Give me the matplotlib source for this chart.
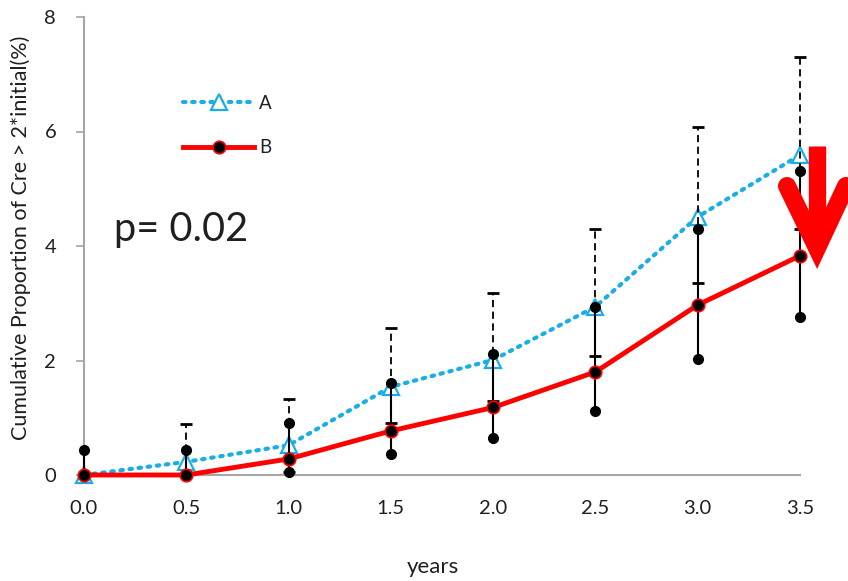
import numpy as np
import matplotlib
matplotlib.use("Agg")
import matplotlib.pyplot as plt
from matplotlib.lines import Line2D

plt.rcParams['font.family'] = ['Lato', 'DejaVu Sans']

# data
years = [0.0, 0.5, 1.0, 1.5, 2.0, 2.5, 3.0, 3.5]
a_val = [0.0, 0.23, 0.52, 1.54, 2.01, 2.94, 4.51, 5.59]
a_hi = [0.0, 0.89, 1.32, 2.56, 3.18, 4.29, 6.07, 7.31]
a_lo = [0.0, 0.0, 0.06, 0.91, 1.30, 2.07, 3.35, 4.30]
b_val = [0.0, 0.0, 0.28, 0.77, 1.18, 1.80, 2.97, 3.83]
b_hi = [0.43, 0.44, 0.91, 1.61, 2.12, 2.93, 4.30, 5.31]
b_lo = [0.0, 0.0, 0.06, 0.36, 0.64, 1.11, 2.03, 2.76]
x_ticks = [0.0, 0.5, 1.0, 1.5, 2.0, 2.5, 3.0, 3.5]
y_ticks = [0, 2, 4, 6, 8]

blue = '#1aaee8'
red = '#ff0000'
gray = '#a6a6a6'
txt = '#1f1f1f'

x = np.array(years)
a = np.array(a_val)
b = np.array(b_val)

fig = plt.figure(figsize=(8.48, 5.81), dpi=100)
ax = fig.add_axes([84/848, 1-475/581, (800-84)/848, (475-17)/581])

# series A
ax.plot(x, a, color=blue, lw=3, linestyle=(0, (0.6, 1.6)), dash_capstyle='round',
        marker='^', ms=11, mfc='white', mec=blue, mew=1.6, zorder=2, clip_on=False)
ebA = ax.errorbar(x, a, yerr=[a - np.array(a_lo), np.array(a_hi) - a], fmt='none',
                  ecolor='black', elinewidth=1.3, capsize=4, capthick=2, zorder=3, clip_on=False)
for lc in ebA[2]:
    lc.set_linestyle((0, (4, 2.5)))

# series B
ax.plot(x, b, color=red, lw=3.5, solid_capstyle='round', zorder=4, clip_on=False)
ax.errorbar(x, b, yerr=[b - np.array(b_lo), np.array(b_hi) - b], fmt='none',
            ecolor='black', elinewidth=1.5, capsize=0, zorder=5, clip_on=False)
ax.plot(x, b_hi, 'o', color='black', ms=7, zorder=5, clip_on=False)
ax.plot(x, b_lo, 'o', color='black', ms=7, zorder=5, clip_on=False)
ax.plot(x, b, 'o', color='black', ms=9, mec=red, mew=1.2, zorder=6, clip_on=False)

ax.set_xlim(0, 3.5)
ax.set_ylim(0, 8)
ax.set_xticks(x_ticks)
ax.set_xticklabels(['%.1f' % v for v in x_ticks])
ax.set_yticks(y_ticks)
for s in ['top', 'right']:
    ax.spines[s].set_visible(False)
for s in ['left', 'bottom']:
    ax.spines[s].set_color(gray)
    ax.spines[s].set_linewidth(1.5)
ax.tick_params(axis='x', length=0, pad=18, labelsize=14.5, labelcolor=txt)
ax.tick_params(axis='y', length=6, width=1.2, color=gray, pad=14, labelsize=14.5, labelcolor=txt)

ax.set_xlabel('years', fontsize=16, color=txt)
ax.xaxis.set_label_coords(0.487, -0.18)
ax.set_ylabel('Cumulative Proportion of Cre > 2*initial(%)', fontsize=15.5, color=txt)
ax.yaxis.set_label_coords(-0.074, 0.518)

# legend
hA = Line2D([], [], color=blue, lw=3, linestyle=(0, (0.6, 1.6)), dash_capstyle='round',
            marker='^', ms=11, mfc='white', mec=blue, mew=1.6)
hB = Line2D([], [], color=red, lw=3.5, marker='o', ms=9, mfc='black', mec=red, mew=1.2)
fig.legend([hA, hB], ['A', 'B'], loc='upper left', bbox_to_anchor=(166/848, 1-78/581),
           frameon=False, fontsize=13.5, handlelength=3.8, handletextpad=0.25,
           labelspacing=1.45, numpoints=1, labelcolor=txt)

fig.text(114/848, 1-229/581, 'p= 0.02', fontsize=28.5, color=txt, va='center', ha='left')

# red arrow annotation
def px(xx, yy):
    return [v/848 for v in xx], [1 - v/581 for v in yy]

sx, sy = px([817, 817], [146, 238])
fig.add_artist(Line2D(sx, sy, color=red, lw=12.5, solid_capstyle='butt'))
hx, hy = px([787, 817, 846], [186, 248, 186])
fig.add_artist(Line2D(hx, hy, color=red, lw=13, solid_capstyle='round', solid_joinstyle='miter'))

fig.savefig('out.png', dpi=100)
